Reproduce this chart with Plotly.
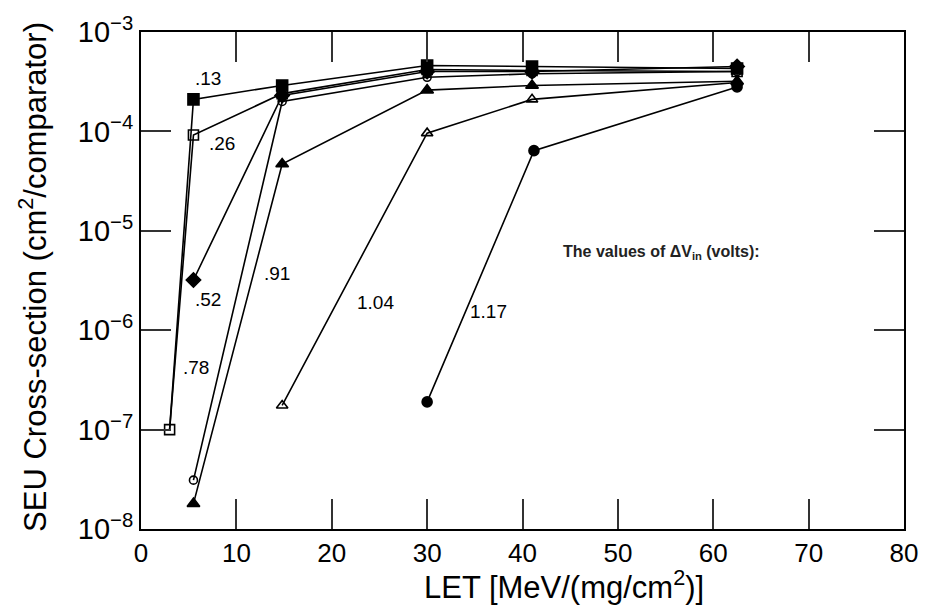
import plotly.graph_objects as go

# LET values [MeV/(mg/cm^2)] and SEU cross-sections [cm^2/comparator] per ΔV_in
let_013 = [3.0, 5.5, 14.8, 30.0, 41.0, 62.5]
sig_013 = [1.0e-7, 2.1e-4, 2.9e-4, 4.6e-4, 4.5e-4, 4.3e-4]

let_026 = [3.0, 5.5, 14.8, 30.0, 41.0, 62.5]
sig_026 = [1.0e-7, 9.2e-5, 2.4e-4, 4.2e-4, 4.1e-4, 4.0e-4]

let_052 = [5.5, 14.8, 30.0, 41.0, 62.5]
sig_052 = [3.2e-6, 2.3e-4, 4.0e-4, 4.0e-4, 4.5e-4]

let_078 = [5.5, 14.8, 30.0, 41.0, 62.5]
sig_078 = [3.1e-8, 2.0e-4, 3.5e-4, 3.8e-4, 4.0e-4]

let_091 = [5.5, 14.8, 30.0, 41.0, 62.5]
sig_091 = [1.8e-8, 4.7e-5, 2.6e-4, 2.9e-4, 3.2e-4]

let_104 = [14.8, 30.0, 41.0, 62.5]
sig_104 = [1.75e-7, 9.6e-5, 2.1e-4, 3.1e-4]

let_117 = [30.0, 41.2, 62.5]
sig_117 = [1.9e-7, 6.4e-5, 2.8e-4]

series_labels = [".13", ".26", ".52", ".78", ".91", "1.04", "1.17"]
x_ticks = [0, 10, 20, 30, 40, 50, 60, 70, 80]
y_exps = [-3, -4, -5, -6, -7, -8]

FONT = "Liberation Sans, Arial, sans-serif"

styles = [
    # (x, y, symbol, size, per-point marker sizes or None)
    (let_013, sig_013, "square", 11, [0, 11, 11, 11, 11, 11]),
    (let_026, sig_026, "square-open", 10, None),
    (let_052, sig_052, "diamond", 11, None),
    (let_078, sig_078, "circle-open", 8, None),
    (let_091, sig_091, "triangle-up", 11, None),
    (let_104, sig_104, "triangle-up-open", 10, None),
    (let_117, sig_117, "circle", 10, None),
]

fig = go.Figure()
for (xs, ys, sym, size, sizes), name in zip(styles, series_labels):
    fig.add_trace(go.Scatter(
        x=xs, y=ys, name=name, mode="lines+markers",
        line=dict(color="black", width=1.6),
        marker=dict(symbol=sym, size=sizes if sizes else size, color="black",
                    opacity=1, line=dict(color="black", width=1.6)),
        showlegend=False,
    ))

# Curve labels (x in LET units, y in log10 of cross-section)
label_pos = {
    ".13": (7.0, -3.47),
    ".26": (8.5, -4.12),
    ".52": (7.0, -5.69),
    ".78": (5.8, -6.38),
    ".91": (14.3, -5.43),
    "1.04": (24.6, -5.72),
    "1.17": (36.4, -5.81),
}
for lab in series_labels:
    x, y = label_pos[lab]
    fig.add_annotation(x=x, y=y, text=lab, showarrow=False,
                       font=dict(family=FONT, size=19, color="black"))

fig.add_annotation(x=44.0, y=-5.22, xanchor="left",
                   text="<b>The values of ΔV<sub>in</sub> (volts):</b>",
                   showarrow=False,
                   font=dict(family=FONT, size=16, color="#222"))

# Axis titles
fig.add_annotation(xref="paper", yref="paper", x=-0.1417, y=0.507,
                   xanchor="center", yanchor="middle", textangle=-90,
                   text="SEU Cross-section (cm<sup>2</sup>/comparator)",
                   showarrow=False,
                   font=dict(family=FONT, size=31, color="black"))
fig.add_annotation(xref="paper", yref="paper", x=0.554, y=-0.113,
                   xanchor="center", yanchor="middle",
                   text="LET [MeV/(mg/cm<sup>2</sup>)]",
                   showarrow=False,
                   font=dict(family=FONT, size=31, color="black"))

axis_common = dict(
    showline=True, linecolor="black", linewidth=2, mirror="ticks",
    ticks="inside", ticklen=30, tickwidth=1.5, tickcolor="#333",
    showgrid=False, zeroline=False,
)

fig.update_xaxes(
    range=[0, 80], tickvals=x_ticks, ticktext=[str(v) for v in x_ticks],
    tickfont=dict(family=FONT, size=26, color="black"),
    **axis_common,
)
fig.update_yaxes(
    type="log", range=[-8, -3],
    tickvals=[10.0 ** e for e in y_exps],
    ticktext=[f"10<sup>\u2212{-e}</sup>" for e in y_exps],
    tickfont=dict(family=FONT, size=29, color="black"),
    **axis_common,
)

fig.update_layout(
    width=930, height=607,
    margin=dict(l=141, r=20, t=22, b=78),
    plot_bgcolor="white", paper_bgcolor="white",
)

fig.write_html("out.html")
